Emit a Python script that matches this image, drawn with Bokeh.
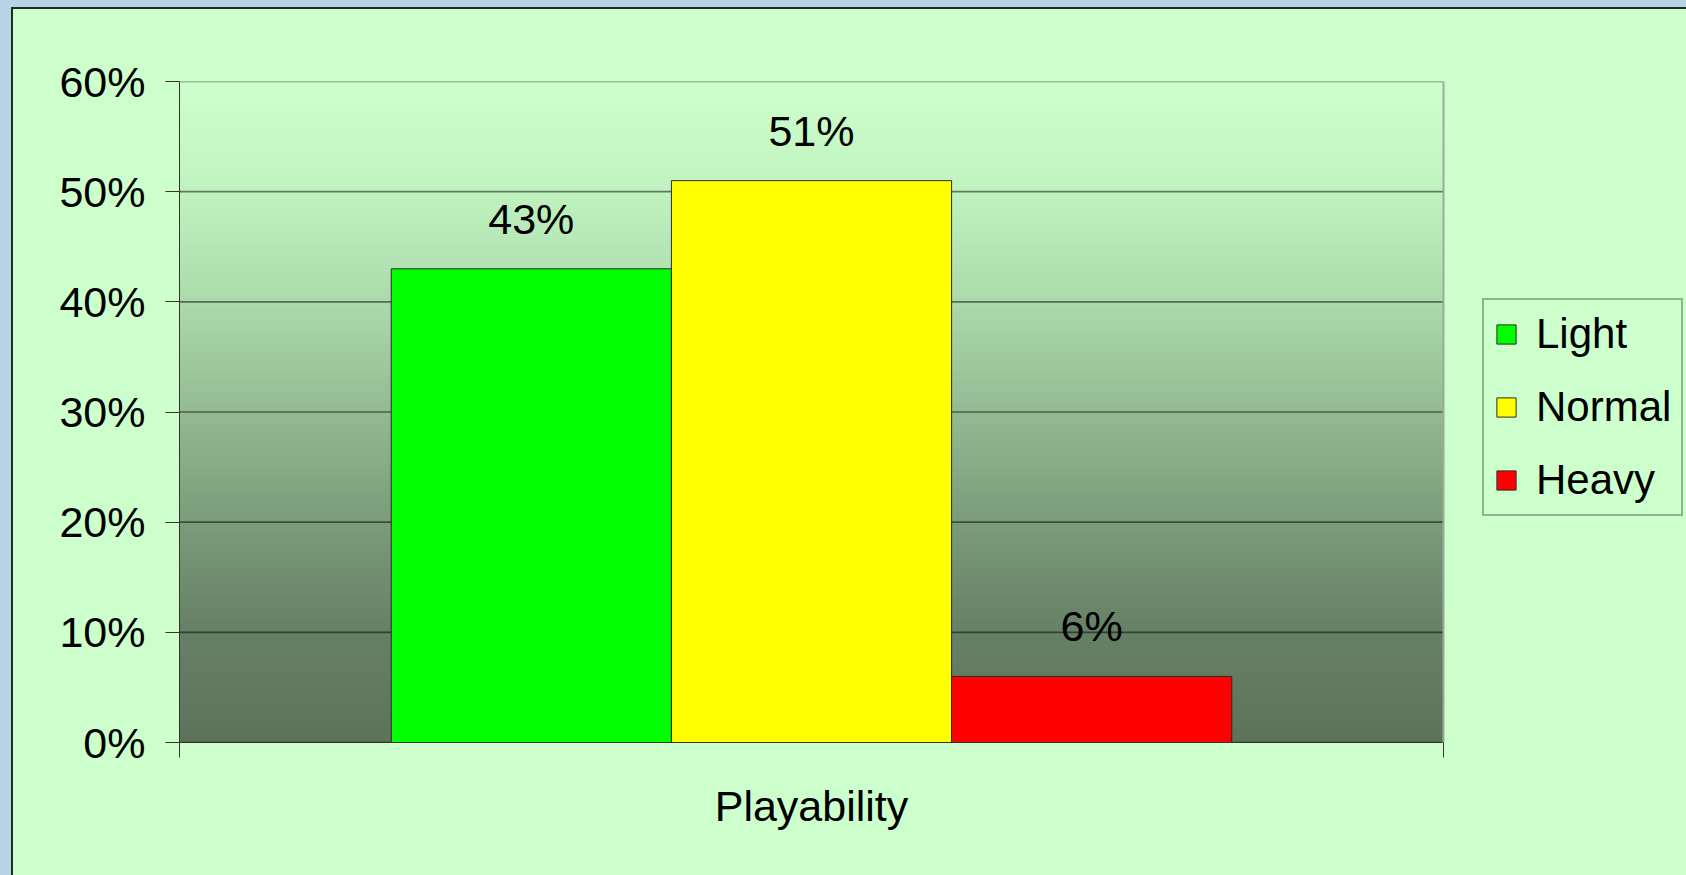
import numpy as np
from bokeh.plotting import figure
from bokeh.models import (ColumnDataSource, Range1d, FixedTicker, Legend,
                          LegendItem, LabelSet, Span)
from bokeh.core.properties import value
from bokeh.layouts import column
from bokeh.embed import file_html
from bokeh.resources import INLINE

# ---------------- data ----------------
categories = ["Playability"]
series = ["Light", "Normal", "Heavy"]
values = [43, 51, 6]
colors = ["#00ff00", "#ffff00", "#ff0000"]
y_ticks = [0, 10, 20, 30, 40, 50, 60]
y_tick_labels = ["0%", "10%", "20%", "30%", "40%", "50%", "60%"]

FONT = "Liberation Sans"
BG = "#ccffcc"
PLOT_W, FRAME_W, FRAME_H = 1264, 1507, 661
NCAT = len(categories)
X_END = NCAT * FRAME_W / PLOT_W   # frame extends right to host the legend

# ---------------- figure ----------------
p = figure(frame_width=FRAME_W, frame_height=FRAME_H, output_backend="svg",
           toolbar_location=None,
           x_range=Range1d(0, X_END), y_range=Range1d(0, 60),
           min_border_left=166, min_border_top=72, min_border_bottom=135,
           min_border_right=0)
p.margin = 0
p.border_fill_color = BG
p.background_fill_color = BG
p.outline_line_color = None

# gradient background of plot area (decorative)
stops_t = [0, 1/6, 2/6, 3/6, 4/6, 5/6, 1]
stops_c = np.array([[204, 255, 204], [192, 243, 192], [172, 218, 171],
                    [148, 186, 146], [122, 156, 121], [102, 128, 101],
                    [92, 115, 90]], dtype=float)
nrows = FRAME_H
img = np.zeros((nrows, 1), dtype=np.uint32)
view = img.view(dtype=np.uint8).reshape((nrows, 1, 4))
for r in range(nrows):
    t = 1.0 - (r + 0.5) / nrows  # row 0 is the bottom
    for k in range(3):
        view[r, 0, k] = int(round(np.interp(t, stops_t, stops_c[:, k])))
    view[r, 0, 3] = 255
g = p.image_rgba(image=[img], x=0, y=0, dw=NCAT, dh=60)
g.level = "image"

# grid lines limited to the plot area
p.xgrid.grid_line_color = None
p.ygrid.grid_line_color = None
gl = p.segment(x0=0, x1=NCAT, y0=y_ticks, y1=y_ticks, line_color="#000000",
               line_alpha=0.5, line_width=1.6)
gl.level = "underlay"

# plot area right border
p.add_layout(Span(location=NCAT, dimension="height", line_color="#9aab9a",
                  line_width=2))

# bars
group_width = 0.665
w = group_width / len(series)
xs = []
for j in range(len(series)):
    xs.append(0.5 + (j - (len(series) - 1) / 2) * w)
src = ColumnDataSource(dict(x=xs, top=values, series=series, color=colors,
                            label=[f"{v}%" for v in values]))
bars = p.vbar(x="x", top="top", width=w, bottom=0, source=src,
              fill_color="color", line_color="#2a2a2a", line_width=1)

labels = LabelSet(x="x", y="top", text="label", source=src,
                  text_align="center", text_baseline="alphabetic",
                  y_offset=35, text_font=value(FONT), text_font_size=value("43px"),
                  text_color="#000000")
p.add_layout(labels)

# y axis
ax = p.yaxis[0]
ax.ticker = FixedTicker(ticks=y_ticks)
ax.major_label_overrides = {t: l for t, l in zip(y_ticks, y_tick_labels)}
ax.major_tick_in = 0
ax.major_tick_out = 14
ax.minor_tick_line_color = None
ax.axis_line_color = "#3f2f28"
ax.major_tick_line_color = "#3f2f28"
ax.major_label_standoff = 20
ax.major_label_text_font = FONT
ax.major_label_text_font_size = "43px"
ax.major_label_text_color = "#000000"

# x axis: category label at its centre, boundary ticks at category edges
cat_centers = [i + 0.5 for i in range(NCAT)]
cat_edges = [float(i) for i in range(NCAT + 1)]
xa = p.xaxis[0]
xa.bounds = (0, NCAT)
xa.ticker = FixedTicker(ticks=cat_centers, minor_ticks=cat_edges)
xa.major_label_overrides = {c: n for c, n in zip(cat_centers, categories)}
xa.major_tick_line_color = None
xa.major_tick_in = 0
xa.major_tick_out = 0
xa.minor_tick_in = 0
xa.minor_tick_out = 15
xa.minor_tick_line_color = "#3f2f28"
xa.axis_line_color = "#3f2f28"
xa.major_label_standoff = 24
xa.major_label_text_font = FONT
xa.major_label_text_font_size = "43px"
xa.major_label_text_color = "#000000"

# legend (screen pixels from the frame's bottom-left)
legend = Legend(items=[LegendItem(label=series[i], renderers=[bars], index=i)
                       for i in range(len(series))],
                location=(PLOT_W + 39, 226), orientation="vertical")
legend.label_text_font = FONT
legend.label_text_font_size = "42px"
legend.label_text_color = "#000000"
legend.glyph_width = 24
legend.glyph_height = 24
legend.label_height = 48
legend.label_standoff = 18
legend.spacing = 25
legend.padding = 10
legend.margin = 0
legend.border_line_color = "#555f55"
legend.border_line_width = 2
legend.background_fill_color = BG
legend.background_fill_alpha = 1
p.add_layout(legend)

chart = column(p, styles={"background-color": BG}, margin=(2, 0, 0, 2))
frame_line = column(chart, styles={"background-color": "#1f2f1d"}, margin=(7, 0, 0, 11))
outer = column(frame_line, styles={"background-color": "#b9d3e6"}, margin=0)

open("out.html", "w").write(file_html(outer, INLINE))
